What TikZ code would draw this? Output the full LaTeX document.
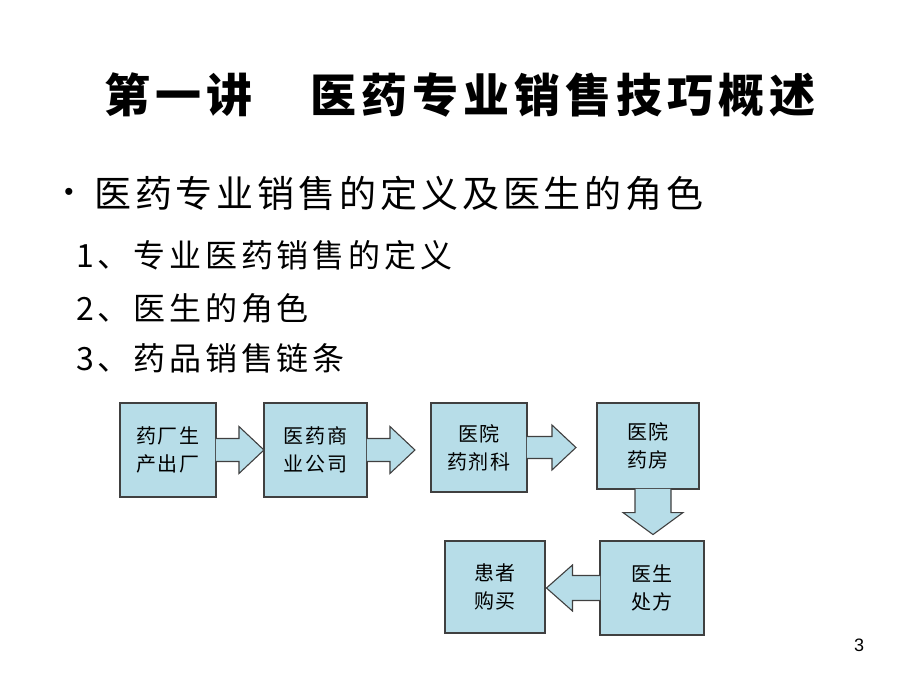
\documentclass[tikz,border=0pt]{standalone}
\usepackage{fontspec}
\setmainfont{Liberation Sans}
\newfontfamily\cjk{Noto Sans CJK SC}
\newfontfamily\cjktitle[LetterSpace=11]{Noto Sans CJK SC}
\newfontfamily\cjkhead[LetterSpace=10.5]{Noto Sans CJK SC}
\newfontfamily\cjkitem[LetterSpace=12]{Noto Sans CJK SC}
\newfontfamily\cjkbox[LetterSpace=8]{Noto Sans CJK SC}
\usetikzlibrary{calc}

\definecolor{chainfill}{HTML}{B7DDE8}
\definecolor{chainline}{HTML}{404040}

\tikzset{
    chainbox/.style={draw=chainline, fill=chainfill, line width=1.1pt, inner sep=0pt,
        align=center, font=\cjkbox\fontsize{20}{28}\selectfont},
    chainarrow/.style={draw=chainline, fill=chainfill, line width=1.1pt, line join=miter},
    itemtext/.style={anchor=west, inner sep=0pt, font=\cjkitem\fontsize{32}{36}\selectfont},
}

\begin{document}
\begin{tikzpicture}[x=1pt, y=-1pt]

    % --- Page ---
    \useasboundingbox (0,0) rectangle (920,690);

    % --- Title ---
    \node[anchor=west, inner sep=0pt, font=\cjktitle\bfseries\fontsize{46}{50}\selectfont]
        (title) at (104,95) {第一讲\hspace{58pt}医药专业销售技巧概述};

    % --- Bullet and items ---
    \node[inner sep=0pt, font=\fontsize{26}{28}\selectfont] (dot) at (69,194) {•};
    \node[anchor=west, inner sep=0pt, font=\cjkhead\fontsize{37}{40}\selectfont]
        (head) at (94,193) {医药专业销售的定义及医生的角色};
    \node[itemtext] (item1) at (76,255) {1、专业医药销售的定义};
    \node[itemtext] (item2) at (76,308) {2、医生的角色};
    \node[itemtext] (item3) at (76,358) {3、药品销售链条};

    % --- Sales chain boxes ---
    \node[chainbox, minimum width=96pt, minimum height=94pt] (factory) at (168,450) {药厂生\\产出厂};
    \node[chainbox, minimum width=103pt, minimum height=94pt] (company) at (315.5,450) {医药商\\业公司};
    \node[chainbox, minimum width=96pt, minimum height=89pt] (dept) at (479,447.5) {医院\\药剂科};
    \node[chainbox, minimum width=102pt, minimum height=86pt] (pharmacy) at (648,446) {医院\\药房};
    \node[chainbox, minimum width=104pt, minimum height=94pt] (doctor) at (652,588) {医生\\处方};
    \node[chainbox, minimum width=100pt, minimum height=92pt] (patient) at (495,587) {患者\\购买};

    % --- Block arrows ---
    % right arrows out of the first three boxes
    \draw[chainarrow] (factory.east) ++(-0.6,-11.5) -- ++(23,0) -- ++(0,-12) -- ++(25,23.5)
        -- ++(-25,23.5) -- ++(0,-12) -- ++(-23,0);
    \draw[chainarrow] (company.east) ++(-0.6,-11.5) -- ++(23,0) -- ++(0,-12) -- ++(25,23.5)
        -- ++(-25,23.5) -- ++(0,-12) -- ++(-23,0);
    \draw[chainarrow] (dept.east) ++(-0.6,-11) -- ++(25,0) -- ++(0,-11.5) -- ++(24,22.5)
        -- ++(-24,22.5) -- ++(0,-11.5) -- ++(-25,0);
    % down arrow from the pharmacy
    \draw[chainarrow] (pharmacy.south) ++(-13,-0.6) -- ++(0,23.6) -- ++(-12,0) -- ++(30,22)
        -- ++(30,-22) -- ++(-12,0) -- ++(0,-23.6);
    % left arrow to the patient
    \draw[chainarrow] (doctor.west) ++(0.6,-12.5) -- ++(-27.6,0) -- ++(0,-10.5) -- ++(-26,23)
        -- ++(26,23) -- ++(0,-10.5) -- ++(27.6,0);

    % --- Page number ---
    \node[font=\fontsize{18}{20}\selectfont, inner sep=0pt] (page) at (859,645) {3};

\end{tikzpicture}
\end{document}
